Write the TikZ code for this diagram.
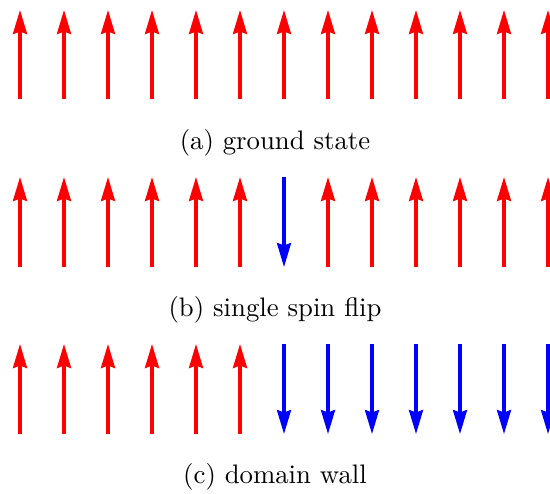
\documentclass[tikz,border=0pt]{standalone}
\usetikzlibrary{arrows.meta}
\tikzset{
  spinup/.style={red, line width=1.3pt, -{Stealth[length=9.6pt,width=5.6pt,inset=1pt]}},
  spindown/.style={blue, line width=1.3pt, -{Stealth[length=9.6pt,width=5.6pt,inset=1pt]}},
  caption/.style={font=\fontsize{10.7}{13}\selectfont, inner sep=0pt}
}
\begin{document}
\begin{tikzpicture}[x=0.4pt, y=-0.4pt]
\useasboundingbox (0,0) rectangle (550,493);
% (a) ground state
\foreach \k in {0,...,12} {
  \draw[spinup] (20+44*\k,99) -- (20+44*\k,10);
}
\node[caption] (capa) at (275,143) {(a) ground state};
% (b) single spin flip
\foreach \k in {0,...,12} {
  \ifnum\k=6
    \draw[spindown] (20+44*\k,177) -- (20+44*\k,267);
  \else
    \draw[spinup] (20+44*\k,267) -- (20+44*\k,177);
  \fi
}
\node[caption] (capb) at (275,310) {(b) single spin flip};
% (c) domain wall
\foreach \k in {0,...,12} {
  \ifnum\k<6
    \draw[spinup] (20+44*\k,434) -- (20+44*\k,344);
  \else
    \draw[spindown] (20+44*\k,344) -- (20+44*\k,434);
  \fi
}
\node[caption] (capc) at (275,477) {(c) domain wall};
\end{tikzpicture}
\end{document}
